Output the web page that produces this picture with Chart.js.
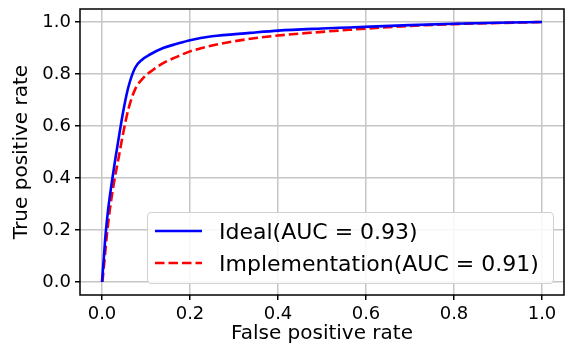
<!DOCTYPE html>
<html>
<head>
<meta charset="utf-8">
<script src="https://cdn.jsdelivr.net/npm/chart.js@4/dist/chart.umd.min.js"></script>
<style>
    body { margin: 0; background: #fff; font-family: 'DejaVu Sans', sans-serif; }
    #wrap { position: relative; width: 565px; height: 347px; }
    #legend {
        position: absolute; left: 147px; top: 212px; width: 405px; height: 70px;
        background: rgba(255,255,255,0.85); border: 1px solid #d0d0d0; border-radius: 4px;
    }
    .item { position: absolute; left: 0; height: 32px; width: 100%; }
    .item svg { position: absolute; left: 7px; top: 0; }
    .item span { position: absolute; left: 71px; top: 1px; font-size: 22px; line-height: 28px; color: #000; white-space: nowrap; }
</style>
</head>
<body>
<div id="wrap">
    <canvas id="roc-chart" width="565" height="347"></canvas>
    <div id="legend"></div>
</div>
<script>
// ROC curves
const idealFpr = [0, 0.004, 0.008, 0.014, 0.022, 0.03, 0.04, 0.05, 0.06, 0.075, 0.091, 0.109, 0.139, 0.17, 0.2, 0.25, 0.336, 0.4, 0.5, 0.562, 0.7, 0.8, 0.9, 1.0];
const idealTpr = [0, 0.09, 0.18, 0.28, 0.38, 0.47, 0.575, 0.672, 0.75, 0.823, 0.855, 0.875, 0.9, 0.916, 0.93, 0.945, 0.958, 0.967, 0.975, 0.979, 0.988, 0.993, 0.997, 1.0];

const implFpr = [0.001, 0.006, 0.011, 0.018, 0.027, 0.038, 0.049, 0.06, 0.075, 0.094, 0.117, 0.139, 0.17, 0.2, 0.298, 0.4, 0.5, 0.562, 0.7, 0.8, 0.9, 1.0];
const implTpr = [0, 0.09, 0.18, 0.28, 0.38, 0.48, 0.58, 0.665, 0.74, 0.785, 0.817, 0.842, 0.866, 0.887, 0.925, 0.948, 0.962, 0.97, 0.985, 0.992, 0.996, 1.0];

const seriesLabels = ['Ideal(AUC = 0.93)', 'Implementation(AUC = 0.91)'];
const xTicks = [0, 0.2, 0.4, 0.6, 0.8, 1.0];
const yTicks = [0, 0.2, 0.4, 0.6, 0.8, 1.0];

function toPoints(xs, ys) {
    return xs.map((x, i) => ({ x: x, y: ys[i] }));
}

// Draw the black box around the plot like matplotlib spines
const framePlugin = {
    id: 'frame',
    afterDraw(chart) {
        const { ctx, chartArea } = chart;
        ctx.save();
        ctx.strokeStyle = '#000';
        ctx.lineWidth = 1.5;
        ctx.strokeRect(chartArea.left, chartArea.top, chartArea.right - chartArea.left, chartArea.bottom - chartArea.top);
        ctx.restore();
    }
};

const tickFont = { family: 'DejaVu Sans', size: 18 };
const titleFont = { family: 'DejaVu Sans', size: 20 };

const ctx = document.getElementById('roc-chart').getContext('2d');
const rocChart = new Chart(ctx, {
    type: 'line',
    data: {
        datasets: [{
            label: seriesLabels[0],
            data: toPoints(idealFpr, idealTpr),
            borderColor: '#0000ff',
            borderWidth: 2.6,
            pointRadius: 0,
            cubicInterpolationMode: 'monotone'
        }, {
            label: seriesLabels[1],
            data: toPoints(implFpr, implTpr),
            borderColor: '#ff0000',
            borderWidth: 2.6,
            borderDash: [9.5, 4],
            pointRadius: 0,
            cubicInterpolationMode: 'monotone'
        }]
    },
    options: {
        responsive: false,
        animation: false,
        layout: { padding: { top: 9, right: 1, left: 0, bottom: 0 } },
        plugins: {
            legend: { display: false },
            tooltip: { enabled: false }
        },
        scales: {
            x: {
                type: 'linear',
                min: -0.05,
                max: 1.05,
                afterBuildTicks: (axis) => { axis.ticks = xTicks.map(v => ({ value: v })); },
                afterFit: (axis) => { axis.height = 52; axis.paddingLeft = 0; axis.paddingRight = 0; },
                grid: { color: '#c6c6c6', lineWidth: 1.5, tickColor: '#000', tickWidth: 1.5, tickLength: 5 },
                border: { display: false },
                ticks: { font: tickFont, color: '#000', padding: 4, maxRotation: 0, callback: (v) => v.toFixed(1) },
                title: { display: true, text: 'False positive rate', font: titleFont, color: '#000', padding: { top: 0, bottom: 1 } }
            },
            y: {
                type: 'linear',
                min: -0.05,
                max: 1.05,
                afterBuildTicks: (axis) => { axis.ticks = yTicks.map(v => ({ value: v })); },
                afterFit: (axis) => { axis.width = 80; axis.paddingTop = 0; axis.paddingBottom = 0; },
                grid: { color: '#c6c6c6', lineWidth: 1.5, tickColor: '#000', tickWidth: 1.5, tickLength: 5 },
                border: { display: false },
                ticks: { font: tickFont, color: '#000', padding: 4, callback: (v) => v.toFixed(1) },
                title: { display: true, text: 'True positive rate', font: titleFont, color: '#000', padding: { top: 10, bottom: 0 } }
            }
        }
    },
    plugins: [framePlugin]
});

// Legend box inside the plot, lower right
const legendEl = document.getElementById('legend');
rocChart.data.datasets.forEach((ds, i) => {
    const item = document.createElement('div');
    item.className = 'item';
    item.style.top = (4 + i * 32) + 'px';
    const dash = ds.borderDash ? `stroke-dasharray="${ds.borderDash.join(' ')}"` : '';
    item.innerHTML = `<svg width="48" height="32"><line x1="0" y1="14" x2="47" y2="14" stroke="${ds.borderColor}" stroke-width="${ds.borderWidth}" ${dash}/></svg><span>${ds.label}</span>`;
    legendEl.appendChild(item);
});
</script>
</body>
</html>
